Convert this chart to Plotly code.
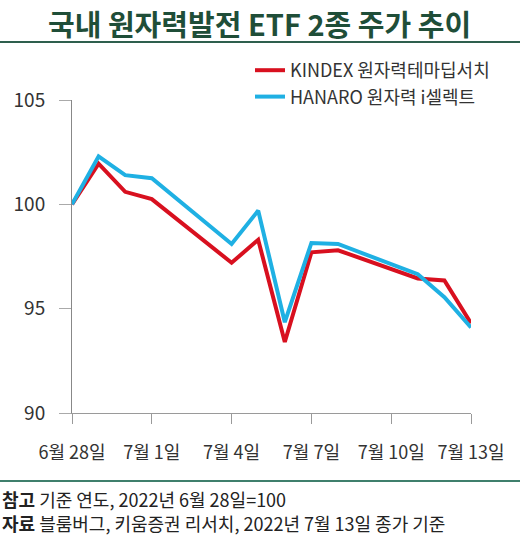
import plotly.graph_objects as go

dates = ["2022-06-28", "2022-06-29", "2022-06-30", "2022-07-01", "2022-07-04",
         "2022-07-05", "2022-07-06", "2022-07-07", "2022-07-08", "2022-07-11",
         "2022-07-12", "2022-07-13"]
kindex = [100.0, 101.95, 100.6, 100.25, 97.2, 98.3, 93.4, 97.7, 97.8, 96.45, 96.35, 94.3]
hanaro = [100.0, 102.3, 101.4, 101.25, 98.1, 99.7, 94.35, 98.15, 98.1, 96.65, 95.55, 94.1]

tick_dates = ["2022-06-28", "2022-07-01", "2022-07-04", "2022-07-07", "2022-07-10", "2022-07-13"]
tick_text = ["6월 28일", "7월 1일", "7월 4일", "7월 7일", "7월 10일", "7월 13일"]
y_ticks = [90, 95, 100, 105]

name_k = "KINDEX 원자력테마딥서치"
name_h = "HANARO 원자력 i셀렉트"
title = "국내 원자력발전 ETF 2종 주가 추이"
note1 = "<b>참고</b> 기준 연도, 2022년 6월 28일=100"
note2 = "<b>자료</b> 블룸버그, 키움증권 리서치, 2022년 7월 13일 종가 기준"

FONT = "Noto Sans CJK KR"
W, H = 520, 535
L, R, T, B = 72, 49, 100, 122
pw, ph = W - L - R, H - T - B


def xp(px):
    return (px - L) / pw


def yp(py):
    return (H - B - py) / ph


fig = go.Figure()
fig.add_trace(go.Scatter(x=dates, y=kindex, mode="lines", name=name_k,
                         line=dict(color="#d8101f", width=4)))
fig.add_trace(go.Scatter(x=dates, y=hanaro, mode="lines", name=name_h,
                         line=dict(color="#1fb0e3", width=4)))

fig.update_layout(
    width=W, height=H,
    margin=dict(l=L, r=R, t=T, b=B),
    paper_bgcolor="white", plot_bgcolor="white",
    font=dict(family=FONT, color="#333333"),
    showlegend=True,
    legend=dict(x=xp(250), y=yp(52), xanchor="left", yanchor="top",
                font=dict(size=18, color="#333333", family=FONT),
                bgcolor="rgba(0,0,0,0)", tracegroupgap=0),
    xaxis=dict(type="date", range=["2022-06-28", "2022-07-13"],
               tickvals=tick_dates, ticktext=tick_text,
               showgrid=False, zeroline=False,
               showline=True, linecolor="#9a9a9a", linewidth=1,
               ticks="outside", ticklen=10, tickcolor="#9a9a9a",
               ticklabelstandoff=13,
               tickfont=dict(size=18, color="#333333", family=FONT)),
    yaxis=dict(range=[90, 105], tickvals=y_ticks,
               showgrid=False, zeroline=False,
               showline=True, linecolor="#888888", linewidth=1,
               ticks="outside", ticklen=12, tickcolor="#aaaaaa",
               ticklabelstandoff=10,
               tickfont=dict(size=19, color="#333333", family=FONT)),
)

fig.add_annotation(text=title, xref="paper", yref="paper", x=xp(259), y=yp(0),
                   xanchor="center", yanchor="top", showarrow=False,
                   font=dict(size=29, color="#1f4e38", family=FONT, weight="bold"))
fig.add_shape(type="line", xref="paper", yref="paper", x0=xp(0), x1=xp(W),
              y0=yp(42), y1=yp(42), line=dict(color="#2e5f4e", width=2))
fig.add_shape(type="line", xref="paper", yref="paper", x0=xp(0), x1=xp(W),
              y0=yp(481), y1=yp(481), line=dict(color="#3f7f6c", width=2))
fig.add_annotation(text=note1, xref="paper", yref="paper", x=xp(0), y=yp(499),
                   xanchor="left", yanchor="middle", align="left", showarrow=False,
                   font=dict(size=18, color="#222222", family=FONT))
fig.add_annotation(text=note2, xref="paper", yref="paper", x=xp(0), y=yp(523),
                   xanchor="left", yanchor="middle", align="left", showarrow=False,
                   font=dict(size=18, color="#222222", family=FONT))

fig.write_html("out.html", config={"displayModeBar": False},
               post_script="document.body.style.margin='0';document.body.style.padding='0';")
